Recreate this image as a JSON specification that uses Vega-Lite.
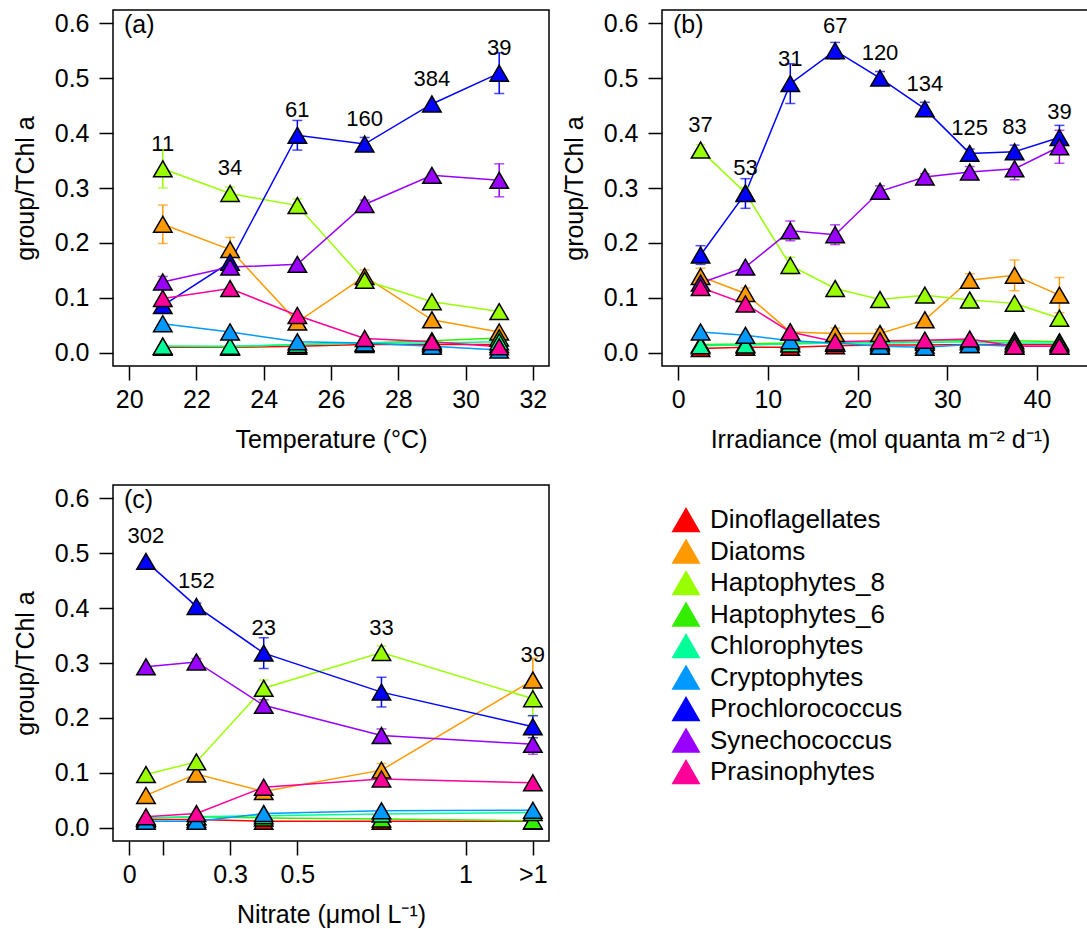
{
"$schema": "https://vega.github.io/schema/vega-lite/v6.json",
"padding": {"left": 12, "top": 9, "right": 0, "bottom": 0},
"background": "white",
"config": {
  "font": "Liberation Sans",
  "view": {"stroke": "black", "strokeWidth": 1.5},
  "axis": {"grid": false, "domain": false, "tickColor": "black", "tickSize": 14, "tickWidth": 1.5, "labelFontSize": 25, "labelColor": "black", "titleFontSize": 25, "titleFontWeight": "normal", "titleColor": "black", "labelFlush": false, "labelOverlap": false},
  "axisX": {"labelPadding": 7, "titlePadding": 15},
  "axisY": {"labelPadding": 10, "titlePadding": 16},
  "title": {"fontSize": 25, "fontWeight": "normal", "anchor": "start", "frame": "group", "baseline": "alphabetic", "offset": -28, "dx": 11, "color": "black"}
},
"datasets": {
"a": [
{"g":"Dinoflagellates","x":21,"v":0.010},{"g":"Dinoflagellates","x":23,"v":0.010},{"g":"Dinoflagellates","x":25,"v":0.012},{"g":"Dinoflagellates","x":27,"v":0.015},{"g":"Dinoflagellates","x":29,"v":0.015},{"g":"Dinoflagellates","x":31,"v":0.015},
{"g":"Diatoms","x":21,"v":0.234,"e":0.035},{"g":"Diatoms","x":23,"v":0.188,"e":0.022},{"g":"Diatoms","x":25,"v":0.056},{"g":"Diatoms","x":27,"v":0.139,"e":0.012},{"g":"Diatoms","x":29,"v":0.060},{"g":"Diatoms","x":31,"v":0.038},
{"g":"Haptophytes_8","x":21,"v":0.335,"e":0.035,"n":"11"},{"g":"Haptophytes_8","x":23,"v":0.290,"e":0.012,"n":"34"},{"g":"Haptophytes_8","x":25,"v":0.268,"e":0.012},{"g":"Haptophytes_8","x":27,"v":0.132},{"g":"Haptophytes_8","x":29,"v":0.093},{"g":"Haptophytes_8","x":31,"v":0.075},
{"g":"Haptophytes_6","x":21,"v":0.012},{"g":"Haptophytes_6","x":23,"v":0.011},{"g":"Haptophytes_6","x":25,"v":0.015},{"g":"Haptophytes_6","x":27,"v":0.018},{"g":"Haptophytes_6","x":29,"v":0.022},{"g":"Haptophytes_6","x":31,"v":0.027},
{"g":"Chlorophytes","x":21,"v":0.012},{"g":"Chlorophytes","x":23,"v":0.012},{"g":"Chlorophytes","x":25,"v":0.015},{"g":"Chlorophytes","x":27,"v":0.018},{"g":"Chlorophytes","x":29,"v":0.018},{"g":"Chlorophytes","x":31,"v":0.020},
{"g":"Cryptophytes","x":21,"v":0.053},{"g":"Cryptophytes","x":23,"v":0.038},{"g":"Cryptophytes","x":25,"v":0.020},{"g":"Cryptophytes","x":27,"v":0.018},{"g":"Cryptophytes","x":29,"v":0.012},{"g":"Cryptophytes","x":31,"v":0.005},
{"g":"Prochlorococcus","x":21,"v":0.086},{"g":"Prochlorococcus","x":23,"v":0.165},{"g":"Prochlorococcus","x":25,"v":0.396,"e":0.027,"n":"61"},{"g":"Prochlorococcus","x":27,"v":0.380,"e":0.012,"n":"160"},{"g":"Prochlorococcus","x":29,"v":0.453,"n":"384"},{"g":"Prochlorococcus","x":31,"v":0.509,"e":0.037,"n":"39"},
{"g":"Synechococcus","x":21,"v":0.129,"e":0.010},{"g":"Synechococcus","x":23,"v":0.156,"e":0.010},{"g":"Synechococcus","x":25,"v":0.161},{"g":"Synechococcus","x":27,"v":0.270,"e":0.008},{"g":"Synechococcus","x":29,"v":0.323},{"g":"Synechococcus","x":31,"v":0.314,"e":0.030},
{"g":"Prasinophytes","x":21,"v":0.099},{"g":"Prasinophytes","x":23,"v":0.117},{"g":"Prasinophytes","x":25,"v":0.068},{"g":"Prasinophytes","x":27,"v":0.026},{"g":"Prasinophytes","x":29,"v":0.020},{"g":"Prasinophytes","x":31,"v":0.011}
],
"b": [
{"g":"Dinoflagellates","x":2.5,"v":0.008},{"g":"Dinoflagellates","x":7.5,"v":0.010},{"g":"Dinoflagellates","x":12.5,"v":0.010},{"g":"Dinoflagellates","x":17.5,"v":0.013},{"g":"Dinoflagellates","x":22.5,"v":0.014},{"g":"Dinoflagellates","x":27.5,"v":0.014},{"g":"Dinoflagellates","x":32.5,"v":0.015},{"g":"Dinoflagellates","x":37.5,"v":0.015},{"g":"Dinoflagellates","x":42.5,"v":0.015},
{"g":"Diatoms","x":2.5,"v":0.139,"e":0.015},{"g":"Diatoms","x":7.5,"v":0.108,"e":0.010},{"g":"Diatoms","x":12.5,"v":0.038},{"g":"Diatoms","x":17.5,"v":0.035,"e":0.010},{"g":"Diatoms","x":22.5,"v":0.035,"e":0.008},{"g":"Diatoms","x":27.5,"v":0.060},{"g":"Diatoms","x":32.5,"v":0.132,"e":0.012},{"g":"Diatoms","x":37.5,"v":0.141,"e":0.028},{"g":"Diatoms","x":42.5,"v":0.105,"e":0.032},
{"g":"Haptophytes_8","x":2.5,"v":0.369,"e":0.010,"n":"37"},{"g":"Haptophytes_8","x":7.5,"v":0.291,"e":0.010},{"g":"Haptophytes_8","x":12.5,"v":0.159,"e":0.015},{"g":"Haptophytes_8","x":17.5,"v":0.117},{"g":"Haptophytes_8","x":22.5,"v":0.097},{"g":"Haptophytes_8","x":27.5,"v":0.105},{"g":"Haptophytes_8","x":32.5,"v":0.096},{"g":"Haptophytes_8","x":37.5,"v":0.090},{"g":"Haptophytes_8","x":42.5,"v":0.063},
{"g":"Haptophytes_6","x":2.5,"v":0.015},{"g":"Haptophytes_6","x":7.5,"v":0.016},{"g":"Haptophytes_6","x":12.5,"v":0.018},{"g":"Haptophytes_6","x":17.5,"v":0.018},{"g":"Haptophytes_6","x":22.5,"v":0.020},{"g":"Haptophytes_6","x":27.5,"v":0.022},{"g":"Haptophytes_6","x":32.5,"v":0.022},{"g":"Haptophytes_6","x":37.5,"v":0.022},{"g":"Haptophytes_6","x":42.5,"v":0.020},
{"g":"Chlorophytes","x":2.5,"v":0.013},{"g":"Chlorophytes","x":7.5,"v":0.014},{"g":"Chlorophytes","x":12.5,"v":0.016},{"g":"Chlorophytes","x":17.5,"v":0.018},{"g":"Chlorophytes","x":22.5,"v":0.018},{"g":"Chlorophytes","x":27.5,"v":0.019},{"g":"Chlorophytes","x":32.5,"v":0.020},{"g":"Chlorophytes","x":37.5,"v":0.018},{"g":"Chlorophytes","x":42.5,"v":0.018},
{"g":"Cryptophytes","x":2.5,"v":0.038},{"g":"Cryptophytes","x":7.5,"v":0.032},{"g":"Cryptophytes","x":12.5,"v":0.022},{"g":"Cryptophytes","x":17.5,"v":0.018},{"g":"Cryptophytes","x":22.5,"v":0.012},{"g":"Cryptophytes","x":27.5,"v":0.010},{"g":"Cryptophytes","x":32.5,"v":0.015},{"g":"Cryptophytes","x":37.5,"v":0.012},{"g":"Cryptophytes","x":42.5,"v":0.012},
{"g":"Prochlorococcus","x":2.5,"v":0.178,"e":0.017},{"g":"Prochlorococcus","x":7.5,"v":0.290,"e":0.027,"n":"53"},{"g":"Prochlorococcus","x":12.5,"v":0.490,"e":0.036,"n":"31"},{"g":"Prochlorococcus","x":17.5,"v":0.550,"e":0.015,"n":"67"},{"g":"Prochlorococcus","x":22.5,"v":0.500,"e":0.012,"n":"120"},{"g":"Prochlorococcus","x":27.5,"v":0.444,"e":0.012,"n":"134"},{"g":"Prochlorococcus","x":32.5,"v":0.363,"e":0.008,"n":"125"},{"g":"Prochlorococcus","x":37.5,"v":0.366,"e":0.012,"n":"83"},{"g":"Prochlorococcus","x":42.5,"v":0.392,"e":0.022,"n":"39"},
{"g":"Synechococcus","x":2.5,"v":0.127},{"g":"Synechococcus","x":7.5,"v":0.156},{"g":"Synechococcus","x":12.5,"v":0.222,"e":0.018},{"g":"Synechococcus","x":17.5,"v":0.215,"e":0.018},{"g":"Synechococcus","x":22.5,"v":0.294,"e":0.010},{"g":"Synechococcus","x":27.5,"v":0.320,"e":0.006},{"g":"Synechococcus","x":32.5,"v":0.329,"e":0.010},{"g":"Synechococcus","x":37.5,"v":0.335,"e":0.020},{"g":"Synechococcus","x":42.5,"v":0.375,"e":0.030},
{"g":"Prasinophytes","x":2.5,"v":0.119},{"g":"Prasinophytes","x":7.5,"v":0.089},{"g":"Prasinophytes","x":12.5,"v":0.038},{"g":"Prasinophytes","x":17.5,"v":0.020},{"g":"Prasinophytes","x":22.5,"v":0.022},{"g":"Prasinophytes","x":27.5,"v":0.023},{"g":"Prasinophytes","x":32.5,"v":0.025},{"g":"Prasinophytes","x":37.5,"v":0.012},{"g":"Prasinophytes","x":42.5,"v":0.012}
],
"c": [
{"g":"Dinoflagellates","x":0.05,"v":0.015},{"g":"Dinoflagellates","x":0.2,"v":0.015},{"g":"Dinoflagellates","x":0.4,"v":0.012},{"g":"Dinoflagellates","x":0.75,"v":0.012},{"g":"Dinoflagellates","x":1.2,"v":0.012},
{"g":"Diatoms","x":0.05,"v":0.059},{"g":"Diatoms","x":0.2,"v":0.098,"e":0.008},{"g":"Diatoms","x":0.4,"v":0.066},{"g":"Diatoms","x":0.75,"v":0.105,"e":0.012},{"g":"Diatoms","x":1.2,"v":0.269,"e":0.040,"n":"39"},
{"g":"Haptophytes_8","x":0.05,"v":0.097},{"g":"Haptophytes_8","x":0.2,"v":0.120},{"g":"Haptophytes_8","x":0.4,"v":0.254,"e":0.015},{"g":"Haptophytes_8","x":0.75,"v":0.319,"e":0.012,"n":"33"},{"g":"Haptophytes_8","x":1.2,"v":0.235,"e":0.030},
{"g":"Haptophytes_6","x":0.05,"v":0.018},{"g":"Haptophytes_6","x":0.2,"v":0.020},{"g":"Haptophytes_6","x":0.4,"v":0.018},{"g":"Haptophytes_6","x":0.75,"v":0.016},{"g":"Haptophytes_6","x":1.2,"v":0.013},
{"g":"Chlorophytes","x":0.05,"v":0.018},{"g":"Chlorophytes","x":0.2,"v":0.020},{"g":"Chlorophytes","x":0.4,"v":0.022},{"g":"Chlorophytes","x":0.75,"v":0.025},{"g":"Chlorophytes","x":1.2,"v":0.028},
{"g":"Cryptophytes","x":0.05,"v":0.012},{"g":"Cryptophytes","x":0.2,"v":0.012},{"g":"Cryptophytes","x":0.4,"v":0.026},{"g":"Cryptophytes","x":0.75,"v":0.031},{"g":"Cryptophytes","x":1.2,"v":0.032},
{"g":"Prochlorococcus","x":0.05,"v":0.485,"n":"302"},{"g":"Prochlorococcus","x":0.2,"v":0.403,"e":0.006,"n":"152"},{"g":"Prochlorococcus","x":0.4,"v":0.318,"e":0.028,"n":"23"},{"g":"Prochlorococcus","x":0.75,"v":0.247,"e":0.027},{"g":"Prochlorococcus","x":1.2,"v":0.184,"e":0.020},
{"g":"Synechococcus","x":0.05,"v":0.293},{"g":"Synechococcus","x":0.2,"v":0.302,"e":0.006},{"g":"Synechococcus","x":0.4,"v":0.223,"e":0.010},{"g":"Synechococcus","x":0.75,"v":0.168,"e":0.012},{"g":"Synechococcus","x":1.2,"v":0.152,"e":0.018},
{"g":"Prasinophytes","x":0.05,"v":0.020},{"g":"Prasinophytes","x":0.2,"v":0.026},{"g":"Prasinophytes","x":0.4,"v":0.074},{"g":"Prasinophytes","x":0.75,"v":0.089},{"g":"Prasinophytes","x":1.2,"v":0.082}
]
},
"resolve": {"legend": {"color": "independent"}},
"spacing": 31,
"vconcat": [
{"hconcat": [
{
 "width": 436, "height": 356,
 "title": {"text": "(a)"},
 "data": {"name": "a"},
 "encoding": {
  "x": {"field": "x", "type": "quantitative", "scale": {"domain": [19.52, 32.48], "nice": false, "zero": false}, "axis": {"values": [20,22,24,26,28,30,32], "title": "Temperature (°C)"}},
  "y": {"field": "v", "type": "quantitative", "scale": {"domain": [-0.024, 0.624], "nice": false, "zero": false}, "axis": {"values": [0,0.1,0.2,0.3,0.4,0.5,0.6], "format": ".1f", "title": "group/TChl a"}},
  "color": {"field": "g", "type": "nominal", "scale": {"domain": ["Dinoflagellates","Diatoms","Haptophytes_8","Haptophytes_6","Chlorophytes","Cryptophytes","Prochlorococcus","Synechococcus","Prasinophytes"], "range": ["#FF0000","#FF9900","#99FF00","#33EE00","#00FF99","#0099FF","#0000FF","#9900FF","#FF0099"]}, "legend": null}
 },
 "layer": [
  {"mark": {"type": "line", "strokeWidth": 1.5}},
  {"transform": [{"filter": "isValid(datum.e)"}], "mark": {"type": "errorbar", "ticks": {"size": 10}, "thickness": 1.5}, "encoding": {"yError": {"field": "e"}}},
  {"mark": {"type": "point", "shape": "triangle-up", "filled": true, "size": 340, "stroke": "black", "strokeWidth": 1.5, "opacity": 1}},
  {"transform": [{"filter": "isValid(datum.n)"}], "mark": {"type": "text", "dy": -25, "fontSize": 22, "baseline": "middle"}, "encoding": {"text": {"field": "n"}, "color": {"value": "black"}}}
 ]
},
{
 "width": 436, "height": 356,
 "title": {"text": "(b)"},
 "data": {"name": "b"},
 "encoding": {
  "x": {"field": "x", "type": "quantitative", "scale": {"domain": [-1.8, 46.8], "nice": false, "zero": false}, "axis": {"values": [0,10,20,30,40], "title": "Irradiance (mol quanta m⁻² d⁻¹)"}},
  "y": {"field": "v", "type": "quantitative", "scale": {"domain": [-0.024, 0.624], "nice": false, "zero": false}, "axis": {"values": [0,0.1,0.2,0.3,0.4,0.5,0.6], "format": ".1f", "title": "group/TChl a"}},
  "color": {"field": "g", "type": "nominal", "scale": {"domain": ["Dinoflagellates","Diatoms","Haptophytes_8","Haptophytes_6","Chlorophytes","Cryptophytes","Prochlorococcus","Synechococcus","Prasinophytes"], "range": ["#FF0000","#FF9900","#99FF00","#33EE00","#00FF99","#0099FF","#0000FF","#9900FF","#FF0099"]}, "legend": null}
 },
 "layer": [
  {"mark": {"type": "line", "strokeWidth": 1.5}},
  {"transform": [{"filter": "isValid(datum.e)"}], "mark": {"type": "errorbar", "ticks": {"size": 10}, "thickness": 1.5}, "encoding": {"yError": {"field": "e"}}},
  {"mark": {"type": "point", "shape": "triangle-up", "filled": true, "size": 340, "stroke": "black", "strokeWidth": 1.5, "opacity": 1}},
  {"transform": [{"filter": "isValid(datum.n)"}], "mark": {"type": "text", "dy": -25, "fontSize": 22, "baseline": "middle"}, "encoding": {"text": {"field": "n"}, "color": {"value": "black"}}}
 ]
}
], "spacing": 11},
{
 "width": 436, "height": 356,
 "title": {"text": "(c)"},
 "data": {"name": "c"},
 "encoding": {
  "x": {"field": "x", "type": "quantitative", "scale": {"domain": [-0.048, 1.248], "nice": false, "zero": false}, "axis": {"values": [0,0.1,0.3,0.5,1,1.2], "format": "~g", "labelExpr": "datum.value == 1.2 ? '>1' : (datum.value == 0.1 ? '' : datum.label)", "title": "Nitrate (μmol L⁻¹)"}},
  "y": {"field": "v", "type": "quantitative", "scale": {"domain": [-0.024, 0.624], "nice": false, "zero": false}, "axis": {"values": [0,0.1,0.2,0.3,0.4,0.5,0.6], "format": ".1f", "title": "group/TChl a"}},
  "color": {"field": "g", "type": "nominal", "scale": {"domain": ["Dinoflagellates","Diatoms","Haptophytes_8","Haptophytes_6","Chlorophytes","Cryptophytes","Prochlorococcus","Synechococcus","Prasinophytes"], "range": ["#FF0000","#FF9900","#99FF00","#33EE00","#00FF99","#0099FF","#0000FF","#9900FF","#FF0099"]},
   "legend": {"orient": "none", "legendX": 559, "legendY": 21, "title": null, "symbolType": "triangle-up", "symbolSize": 700, "symbolStrokeColor": "black", "symbolStrokeWidth": 1.5, "symbolOpacity": 1, "labelFontSize": 26, "labelColor": "black", "rowPadding": 1.5, "labelOffset": 10, "labelLimit": 400}}
 },
 "layer": [
  {"mark": {"type": "line", "strokeWidth": 1.5}},
  {"transform": [{"filter": "isValid(datum.e)"}], "mark": {"type": "errorbar", "ticks": {"size": 10}, "thickness": 1.5}, "encoding": {"yError": {"field": "e"}}},
  {"mark": {"type": "point", "shape": "triangle-up", "filled": true, "size": 340, "stroke": "black", "strokeWidth": 1.5, "opacity": 1}},
  {"transform": [{"filter": "isValid(datum.n)"}], "mark": {"type": "text", "dy": -25, "fontSize": 22, "baseline": "middle"}, "encoding": {"text": {"field": "n"}, "color": {"value": "black"}}}
 ]
}
]
}
